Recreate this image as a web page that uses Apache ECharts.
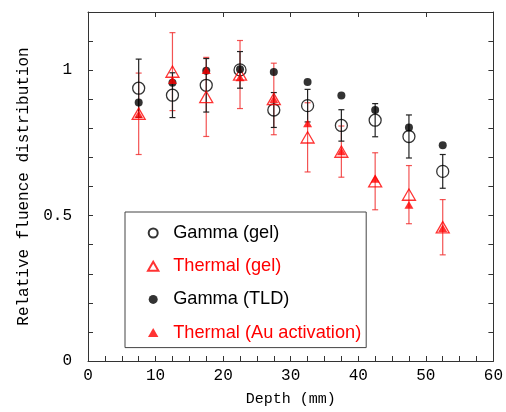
<!DOCTYPE html>
<html><head><meta charset="utf-8">
<script src="https://cdn.jsdelivr.net/npm/echarts@6/dist/echarts.min.js"></script>
<style>html,body{margin:0;padding:0;background:#fff}#c{width:506px;height:412px}</style>
</head><body><div id="c"></div>
<script>
const depths = [7.5, 12.5, 17.5, 22.5, 27.5, 32.5, 37.5, 42.5, 47.5, 52.5];
const gammaGel = [0.938, 0.914, 0.948, 1.001, 0.863, 0.878, 0.810, 0.828, 0.772, 0.652];
const gammaGelErr = [0.100, 0.077, 0.092, 0.063, 0.060, 0.056, 0.054, 0.057, 0.074, 0.058];
const thermalGel = [0.850, 0.995, 0.908, 0.985, 0.901, 0.769, 0.720, 0.618, 0.572, 0.460];
const thermalGelErr = [0.140, 0.134, 0.136, 0.117, 0.123, 0.119, 0.088, 0.098, 0.100, 0.095];
const gammaTLD = [0.889, 0.957, 0.998, 1.003, 0.994, 0.959, 0.913, 0.863, 0.803, 0.742];
const thermalAu = [0.848, 0.966, 1.000, 0.975, 0.900, 0.817, 0.721, 0.626, 0.537, 0.457];
const xTickLabels = ['0', '10', '20', '30', '40', '50', '60'];
const yTickLabels = ['0', '0.5', '1'];

const pair = arr => depths.map((d, i) => [d, arr[i]]);
const errData = (v, e) => depths.map((d, i) => [d, v[i] - e[i], v[i] + e[i]]);

function errRender(color) {
  return function (params, api) {
    const x = api.value(0);
    const lo = api.coord([x, api.value(1)]);
    const hi = api.coord([x, api.value(2)]);
    const w = 3;
    const st = { stroke: color, lineWidth: 1.2 };
    return { type: 'group', children: [
      { type: 'line', shape: { x1: lo[0], y1: lo[1], x2: hi[0], y2: hi[1] }, style: st },
      { type: 'line', shape: { x1: lo[0] - w, y1: lo[1], x2: lo[0] + w, y2: lo[1] }, style: st },
      { type: 'line', shape: { x1: hi[0] - w, y1: hi[1], x2: hi[0] + w, y2: hi[1] }, style: st }
    ]};
  };
}

const tri = 'path://M0,0.866L0.5,0L1,0.866Z';
const monoFont = 'Liberation Mono';
const axisLine = { show: true, onZero: false, lineStyle: { color: '#333', width: 1 } };
const tick = { show: true, inside: true, length: 5, lineStyle: { color: '#333' } };
const chart = echarts.init(document.getElementById('c'));
chart.setOption({
  animation: false,
  grid: { left: 88, right: 10, top: 12, bottom: 51, containLabel: false },
  xAxis: [{
    type: 'value', min: 0, max: 60, interval: 2.5,
    name: 'Depth (mm)', nameLocation: 'middle', nameGap: 31,
    nameTextStyle: { fontFamily: monoFont, fontSize: 15, color: '#000' },
    axisLine: axisLine, axisTick: tick,
    axisLabel: { margin: 7, fontFamily: monoFont, fontSize: 16, color: '#000',
      formatter: v => { const s = String(Math.round(v)); return (Math.abs(v % 10) < 1e-6 && xTickLabels.includes(s)) ? s : ''; } },
    splitLine: { show: false }
  }, {
    type: 'value', position: 'top', min: 0, max: 60, interval: 10,
    axisLine: axisLine, axisTick: tick,
    axisLabel: { show: false }, splitLine: { show: false }
  }],
  yAxis: [{
    type: 'value', min: 0, max: 1.2, interval: 0.1,
    name: 'Relative fluence distribution', nameLocation: 'middle', nameGap: 56, nameRotate: 90,
    nameTextStyle: { fontFamily: monoFont, fontSize: 16, color: '#000' },
    axisLine: axisLine, axisTick: tick,
    axisLabel: { margin: 16, fontFamily: monoFont, fontSize: 16, color: '#000',
      formatter: v => { const s = String(Math.round(v * 10) / 10); return yTickLabels.includes(s) ? s : ''; } },
    splitLine: { show: false }
  }, {
    type: 'value', position: 'right', min: 0, max: 1.2, interval: 0.1,
    axisLine: axisLine, axisTick: tick,
    axisLabel: { show: false }, splitLine: { show: false }
  }],
  legend: {
    orient: 'vertical', left: 125, top: 212,
    padding: [12, 5, 6, 22], itemGap: 15.2, itemWidth: 30, itemHeight: 9,
    borderColor: '#444', borderWidth: 1, backgroundColor: '#fff',
    textStyle: { fontFamily: 'Liberation Sans', fontSize: 18.2, lineHeight: 18 },
    data: [
      { name: 'Gamma (gel)', textStyle: { color: '#000' } },
      { name: 'Thermal (gel)', textStyle: { color: '#ff0000' } },
      { name: 'Gamma (TLD)', textStyle: { color: '#000' } },
      { name: 'Thermal (Au activation)', textStyle: { color: '#ff0000' } }
    ]
  },
  series: [
    { type: 'custom', renderItem: errRender('rgba(240,40,40,0.8)'), data: errData(thermalGel, thermalGelErr), encode: { x: 0, y: [1, 2] }, z: 1 },
    { type: 'custom', renderItem: errRender('#222'), data: errData(gammaGel, gammaGelErr), encode: { x: 0, y: [1, 2] }, z: 1 },
    { name: 'Gamma (gel)', type: 'scatter', symbol: 'circle', symbolSize: 12, data: pair(gammaGel),
      itemStyle: { color: 'rgba(0,0,0,0)', borderColor: '#000', borderWidth: 1.3 }, z: 2 },
    { name: 'Thermal (gel)', type: 'scatter', symbol: tri, symbolSize: 13, symbolKeepAspect: true, data: pair(thermalGel),
      itemStyle: { color: 'rgba(0,0,0,0)', borderColor: '#ff0000', borderWidth: 1.3 }, z: 3 },
    { name: 'Gamma (TLD)', type: 'scatter', symbol: 'circle', symbolSize: 8, data: pair(gammaTLD),
      itemStyle: { color: '#000' }, z: 4 },
    { name: 'Thermal (Au activation)', type: 'scatter', symbol: tri, symbolSize: 9, symbolKeepAspect: true, data: pair(thermalAu),
      itemStyle: { color: '#ff0000' }, z: 5 }
  ]
});
</script></body></html>
